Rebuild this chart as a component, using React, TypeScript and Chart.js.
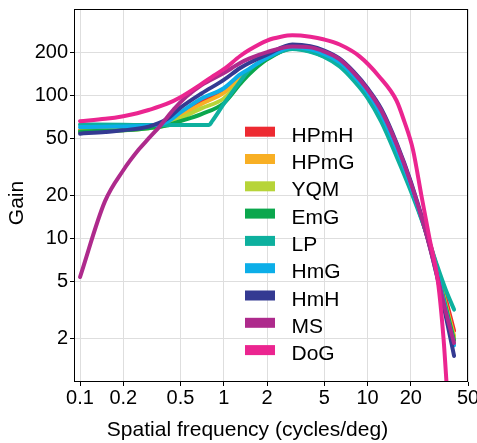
import React, { useEffect, useRef } from "react";
import { Chart, registerables } from "chart.js";

Chart.register(...registerables);

// ---- tick labels ----
const X_TICKS = [0.1, 0.2, 0.5, 1, 2, 5, 10, 20, 50];
const Y_TICKS = [2, 5, 10, 20, 50, 100, 200];

// ---- series names ----
const NAMES = ["HPmH", "HPmG", "YQM", "EmG", "LP", "HmG", "HmH", "MS", "DoG"];

// ---- shared frequency grid (cycles/deg) ----
const FREQ = [0.1, 0.15, 0.2, 0.3, 0.4, 0.5, 0.7, 1, 1.3, 1.5, 2, 3, 4, 5, 6.4, 8, 10, 12.5, 16, 20, 25, 30, 35, 40];

const HPMH = [57, 57.5, 58, 60, 64, 73, 90, 107, 135, 150, 182, 214, 206, 191, 166, 134, 103, 71, 41, 23.2, 12.2, 6.6, 3.8, 2.28];
const HPMG = [56.5, 57, 57.5, 59.5, 63, 72, 87, 104, 130, 147, 181, 213, 205, 190, 165, 133, 102, 70, 40, 23, 12, 6.4, 3.5, 2.1];
const YQM = [56, 56.5, 57, 59, 62, 69, 81, 95, 125, 143, 180, 212, 204, 189, 164, 132, 101, 69, 39.5, 22.7, 11.9, 6.3, 3.4, 2.0];
const EMG = [56, 56.5, 57, 59, 61.5, 66, 74, 88, 120, 140, 178, 211, 203, 187, 162, 130, 99, 68, 39, 22.5, 11.8, 6.2, 3.35, 1.95];
const HMG = [60, 60.3, 60.7, 61.5, 65, 76, 95, 112, 140, 153, 183, 216, 209, 194, 170, 137, 105, 73, 42, 23.5, 11.9, 6.1, 3.2, 1.8];
const HMH = [54, 55.5, 57, 60.5, 68, 82, 103, 128, 155, 168, 192, 226, 220, 205, 180, 146, 112, 80, 46, 25, 12, 5.8, 2.9, 1.52];

const LP_FREQ = [0.1, 0.2, 0.3, 0.5, 0.7, 0.79, 0.83, 1, 1.3, 1.5, 2, 3, 4, 5, 6.4, 8, 10, 12.5, 16, 20, 25, 30, 35, 40];
const LP = [62.5, 62.3, 62, 62, 62, 62, 66, 87, 125, 150, 182, 210, 201, 185, 159, 127, 96, 65, 37, 21.5, 11.8, 6.8, 4.4, 3.2];

const MS_FREQ = [0.1, 0.149, 0.2, 0.256, 0.3, 0.36, 0.45, 0.55, 0.7, 1, 1.3, 1.5, 2, 3, 4, 5, 6.4, 8, 10, 12.5, 16, 20, 25, 30, 35, 40];
const MS = [5.4, 18.2, 30, 41.8, 50, 61, 80, 98, 118, 143, 168, 180, 200, 219, 216, 202, 178, 144, 110, 78, 45, 24.5, 11.8, 5.9, 3.1, 1.87];

const DOG_FREQ = [0.1, 0.15, 0.2, 0.25, 0.3, 0.4, 0.5, 0.7, 0.85, 1, 1.3, 1.5, 2, 2.5, 3, 4, 5, 6.4, 8.8, 12, 15.9, 18, 20.7, 23.7, 27, 30.9, 33.8, 35.3, 36.5];
const DOG = [66, 68.5, 71.5, 75, 79, 87, 97, 120, 137, 152, 188, 207, 241, 256, 262, 256, 245, 226, 187, 136, 92, 66, 41.8, 20, 10, 5, 2, 1.05, 0.6];

// ---- styles ----
const COLORS = ["#ED2A31", "#F8AF24", "#B7D438", "#0BA74D", "#0DB09E", "#0CAEE8", "#343A92", "#AE2A8C", "#EB2590"];
const FONT = "'Liberation Sans', Arial, Helvetica, sans-serif";

export default function App() {
  const ref = useRef<HTMLCanvasElement>(null);

  useEffect(() => {
    document.body.style.margin = "0";
    const canvas = ref.current;
    if (!canvas) return;
    Chart.defaults.font.family = FONT;
    Chart.defaults.color = "#000";

    const xsList = [FREQ, FREQ, FREQ, FREQ, LP_FREQ, FREQ, FREQ, MS_FREQ, DOG_FREQ];
    const ysList = [HPMH, HPMG, YQM, EMG, LP, HMG, HMH, MS, DOG];

    const datasets = NAMES.map((name, i) => ({
      label: name,
      data: xsList[i].map((x, k) => ({ x, y: ysList[i][k] })),
      borderColor: COLORS[i],
      backgroundColor: COLORS[i],
      borderWidth: 4,
      pointRadius: 0,
      cubicInterpolationMode: "monotone" as const,
      borderCapStyle: "round" as const,
      borderJoinStyle: "round" as const,
      fill: false,
      clip: 0,
      order: NAMES.length - i,
    }));

    const framePlugin = {
      id: "frame",
      afterDraw(chart: any) {
        const { ctx, chartArea: a } = chart;
        ctx.save();
        ctx.strokeStyle = "#000";
        ctx.lineWidth = 1;
        ctx.strokeRect(a.left + 0.5, a.top + 0.5, a.right - a.left - 1, a.bottom - a.top - 1);
        ctx.restore();
      },
    };

    const legendPlugin = {
      id: "customLegend",
      afterDraw(chart: any) {
        const { ctx } = chart;
        ctx.save();
        ctx.font = `21px ${FONT}`;
        ctx.textAlign = "left";
        ctx.textBaseline = "alphabetic";
        chart.data.datasets.forEach((ds: any, i: number) => {
          const cy = 131.7 + i * 27.3;
          ctx.fillStyle = ds.borderColor;
          ctx.fillRect(245, cy - 5, 30, 10);
          ctx.fillStyle = "#000";
          ctx.fillText(ds.label, 291.5, cy + 10);
        });
        ctx.restore();
      },
    };

    const titlesPlugin = {
      id: "axisTitles",
      afterDraw(chart: any) {
        const { ctx } = chart;
        ctx.save();
        ctx.fillStyle = "#000";
        ctx.font = `21px ${FONT}`;
        ctx.textAlign = "center";
        ctx.textBaseline = "alphabetic";
        ctx.fillText("Spatial frequency (cycles/deg)", 247.5, 436);
        ctx.translate(23, 203);
        ctx.rotate(-Math.PI / 2);
        ctx.fillText("Gain", 0, 0);
        ctx.restore();
      },
    };

    const chart = new Chart(canvas, {
      type: "line",
      data: { datasets },
      options: {
        responsive: false,
        animation: false,
        events: [],
        layout: { padding: { top: 9, right: 9, left: 0, bottom: 0 } },
        plugins: { legend: { display: false }, tooltip: { enabled: false } },
        scales: {
          x: {
            type: "logarithmic",
            min: 0.0908,
            max: 50,
            afterBuildTicks: (s: any) => {
              s.ticks = X_TICKS.map((v) => ({ value: v }));
            },
            afterFit: (s: any) => {
              s.height = 61;
              s.paddingLeft = 0;
              s.paddingRight = 0;
            },
            ticks: {
              autoSkip: false,
              maxRotation: 0,
              minRotation: 0,
              color: "#000",
              font: { size: 20, family: FONT },
              padding: 0,
              callback: (v: any) => String(v),
            },
            grid: { color: "#dedede", lineWidth: 1, tickColor: "#000", tickLength: 4, drawTicks: true },
            border: { display: false },
          },
          y: {
            type: "logarithmic",
            min: 1,
            max: 400,
            afterBuildTicks: (s: any) => {
              s.ticks = Y_TICKS.map((v) => ({ value: v }));
            },
            afterFit: (s: any) => {
              s.width = 74;
              s.paddingTop = 0;
              s.paddingBottom = 0;
            },
            ticks: {
              color: "#000",
              font: { size: 20, family: FONT },
              padding: 2,
              callback: (v: any) => String(v),
            },
            grid: { color: "#dedede", lineWidth: 1, tickColor: "#000", tickLength: 4, drawTicks: true },
            border: { display: false },
          },
        },
      },
      plugins: [framePlugin, legendPlugin, titlesPlugin],
    } as any);

    return () => chart.destroy();
  }, []);

  return (
    <div style={{ width: 477, height: 443, position: "relative" }}>
      <canvas ref={ref} width={477} height={443} style={{ display: "block" }} />
    </div>
  );
}
